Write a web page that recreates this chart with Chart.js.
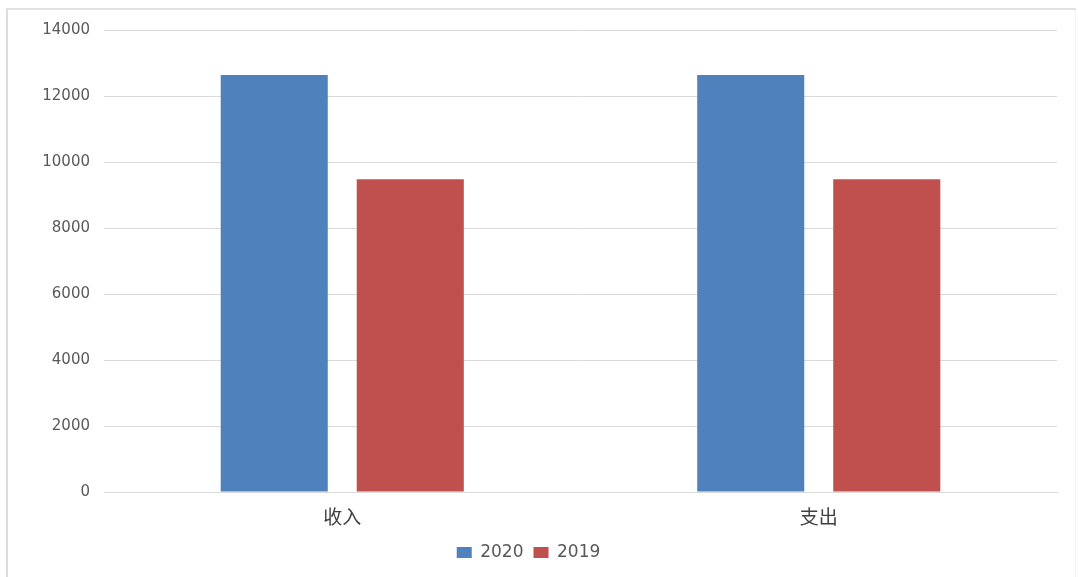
<!DOCTYPE html>
<html>
<head>
<meta charset="utf-8">
<script src="https://cdn.jsdelivr.net/npm/chart.js@4/dist/chart.umd.min.js"></script>
<style>
  html, body { margin: 0; padding: 0; background: #fff; }
  #wrap { position: relative; width: 1078px; height: 577px; }
  #frame { position: absolute; left: 6px; top: 8px; right: 2px; bottom: -2px;
           border-left: 2px solid #dcdcdc; border-top: 2px solid #e2e2e2; border-right: 1px solid #f0f0f0; }
  canvas { position: absolute; left: 0; top: 0; }
</style>
</head>
<body>
<div id="wrap">
  <div id="frame"></div>
  <canvas id="myChart" width="1078" height="577"></canvas>
</div>
<script>
// categories and series
const categories = ['收入', '支出'];
const values2020 = [12640, 12640];
const values2019 = [9480, 9480];
const yTicks = [0, 2000, 4000, 6000, 8000, 10000, 12000, 14000];

const font = "'DejaVu Sans', 'Noto Sans CJK SC', sans-serif";
const cjkFont = "'Noto Sans CJK SC', sans-serif";

const ctx = document.getElementById('myChart').getContext('2d');
const myChart = new Chart(ctx, {
  type: 'bar',
  data: {
    labels: categories,
    datasets: [
      { label: '2020', data: values2020, backgroundColor: '#4f81bd' },
      { label: '2019', data: values2019, backgroundColor: '#c0504d' }
    ]
  },
  options: {
    responsive: false,
    animation: false,
    devicePixelRatio: 1,
    categoryPercentage: 0.571,
    barPercentage: 0.787,
    layout: { padding: { left: 0, right: 21, top: 30, bottom: 6 } },
    plugins: {
      tooltip: { enabled: false },
      legend: {
        position: 'bottom',
        labels: {
          boxWidth: 15, boxHeight: 11, padding: 10,
          color: '#595959',
          font: { family: font, size: 17 }
        }
      }
    },
    scales: {
      x: {
        grid: { display: false },
        border: { display: true, color: '#d9d9d9' },
        ticks: { color: '#404040', font: { family: cjkFont, size: 19 }, padding: 5 },
        afterFit: (s) => { s.height = 42; }
      },
      y: {
        min: 0, max: 14000,
        afterBuildTicks: (s) => { s.ticks = yTicks.map(v => ({ value: v })); },
        grid: { color: '#d9d9d9', drawTicks: false },
        border: { display: false },
        ticks: {
          color: '#595959', font: { family: font, size: 15 }, padding: 14,
          callback: (v) => String(v)
        },
        afterFit: (s) => { s.width = 104; }
      }
    }
  }
});
</script>
</body>
</html>
